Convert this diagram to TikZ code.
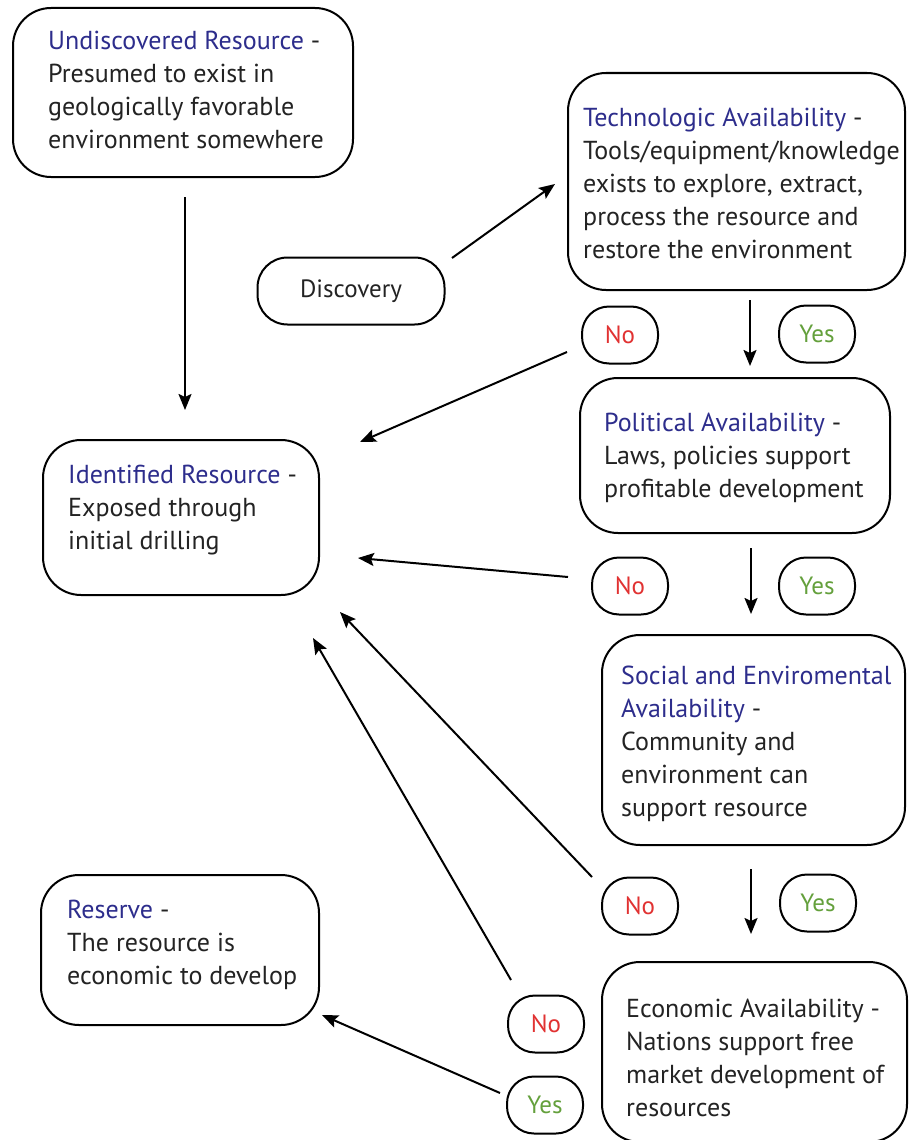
\documentclass[tikz,border=0pt]{standalone}
\usepackage{fontspec}
\setmainfont{PT Sans}
\usetikzlibrary{arrows.meta}
\definecolor{ttl}{RGB}{45,45,140}
\definecolor{bodyc}{RGB}{35,35,35}
\definecolor{noc}{RGB}{225,50,50}
\definecolor{yesc}{RGB}{100,160,60}
\begin{document}
\begin{tikzpicture}[x=1pt,y=-1pt,
 box/.style={draw=black, line width=2pt, rounded corners=38pt, inner sep=0pt},
 pill/.style={draw=black, line width=2pt, rounded corners=27pt, minimum width=76pt, minimum height=57pt, inner sep=0pt, font=\fontsize{25}{28}\selectfont},
 nopill/.style={pill, text=noc},
 yespill/.style={pill, text=yesc},
 txt/.style={anchor=west, align=left, inner sep=0pt, text=bodyc, font=\fontsize{26}{33}\selectfont},
 arr/.style={line width=2pt, -{Stealth[length=16pt,width=13pt,inset=3pt]}}]
\useasboundingbox[fill=white] (0,0) rectangle (909,1140);

% boxes
\node[box, minimum width=340pt, minimum height=169pt] (und) at (183,92.5) {};
\node[txt] (undT) at (48,90) {\textcolor{ttl}{Undiscovered Resource} -\\Presumed to exist in\\geologically favorable\\environment somewhere};

\node[box, minimum width=337pt, minimum height=217pt] (tech) at (736.5,181.5) {};
\node[txt] (techT) at (583,183) {\textcolor{ttl}{Technologic Availability} -\\Tools/equipment/knowledge\\exists to explore, extract,\\process the resource and\\restore the environment};

\node[draw=black, line width=2pt, rounded corners=30pt, minimum width=187pt, minimum height=67pt, inner sep=0pt, text=bodyc, font=\fontsize{25}{28}\selectfont] (disc) at (351,291) {Discovery};

\node[box, minimum width=310pt, minimum height=155pt] (pol) at (735,455.5) {};
\node[txt] (polT) at (604,458) {\textcolor{ttl}{Political Availability} -\\Laws, policies support\\profitable development};

\node[box, minimum width=276pt, minimum height=155pt] (ident) at (181,517.5) {};
\node[txt] (identT) at (68,510) {\textcolor{ttl}{Identified Resource} -\\Exposed through\\initial drilling};

\node[box, minimum width=303pt, minimum height=210pt] (soc) at (753.5,740) {};
\node[txt] (socT) at (621,744) {\textcolor{ttl}{Social and Enviromental}\\\textcolor{ttl}{Availability} -\\Community and\\environment can\\support resource};

\node[box, minimum width=305pt, minimum height=180pt] (econ) at (754.5,1052) {};
\node[txt] (econT) at (626,1058) {Economic Availability -\\Nations support free\\market development of\\resources};

\node[box, minimum width=278pt, minimum height=150pt] (res) at (180,950) {};
\node[txt] (resT) at (67,945) {\textcolor{ttl}{Reserve} -\\The resource is\\economic to develop};

% yes / no
\node[nopill] (no1) at (620,335) {No};
\node[yespill] (yes1) at (817,334) {Yes};
\node[nopill] (no2) at (630,586) {No};
\node[yespill] (yes2) at (817,586) {Yes};
\node[nopill] (no3) at (640,906) {No};
\node[yespill] (yes3) at (818,903) {Yes};
\node[nopill] (no4) at (546,1024) {No};
\node[yespill] (yes4) at (545,1105) {Yes};

% connector end points
\coordinate (a1s) at (185,197);
\coordinate (a1e) at (185,410);
\coordinate (ds) at (452,258);
\coordinate (de) at (555,184);
\coordinate (t1s) at (750,300);
\coordinate (t1e) at (750,366);
\coordinate (t2s) at (751,548);
\coordinate (t2e) at (751,614);
\coordinate (t3s) at (751,869);
\coordinate (t3e) at (751,934);
\coordinate (n1s) at (567,352);
\coordinate (n1e) at (360,442);
\coordinate (n2s) at (568,577);
\coordinate (n2e) at (358,558);
\coordinate (n3s) at (592,877);
\coordinate (n3e) at (340,612);
\coordinate (n4s) at (511,980);
\coordinate (n4e) at (313,638);
\coordinate (y4s) at (500,1093);
\coordinate (y4e) at (322,1015);

\draw[arr] (a1s) -- (a1e);
\draw[arr] (ds) -- (de);
\draw[arr] (t1s) -- (t1e);
\draw[arr] (t2s) -- (t2e);
\draw[arr] (t3s) -- (t3e);
\draw[arr] (n1s) -- (n1e);
\draw[arr] (n2s) -- (n2e);
\draw[arr] (n3s) -- (n3e);
\draw[arr] (n4s) -- (n4e);
\draw[arr] (y4s) -- (y4e);
\end{tikzpicture}
\end{document}
